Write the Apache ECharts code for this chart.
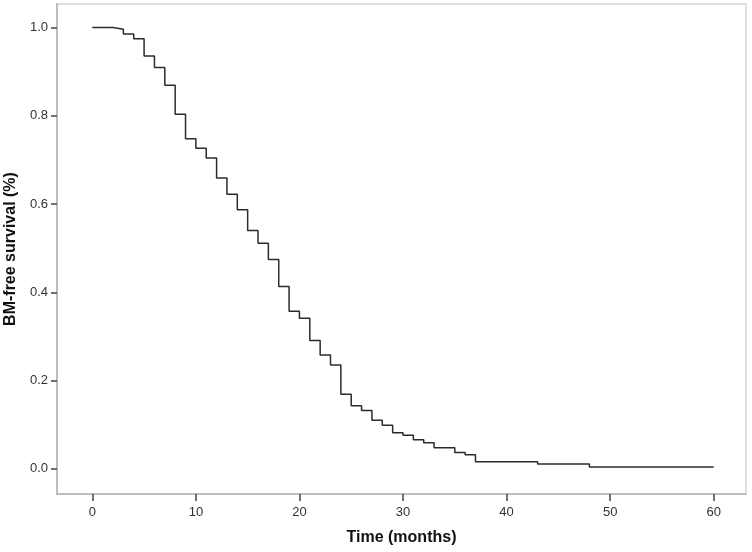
<!DOCTYPE html>
<html>
<head>
<meta charset="utf-8">
<script src="https://cdn.jsdelivr.net/npm/echarts@6/dist/echarts.min.js"></script>
<style>
  html, body { margin: 0; padding: 0; background: #fff; }
  #chart { width: 752px; height: 552px; }
</style>
</head>
<body>
<div id="chart"></div>
<script>
// Kaplan-Meier step points: time (months) and survival from that time on
const times = [0, 2, 3, 4, 5, 6, 7, 8, 9, 10, 11, 12, 13, 14, 15, 16, 17, 18, 19, 20,
  21, 22, 23, 24, 25, 26, 27, 28, 29, 30, 31, 32, 33, 35, 36, 37, 43, 48, 60];
const survival = [1.0, 0.996, 0.985, 0.974, 0.935, 0.909, 0.869, 0.803, 0.748, 0.726,
  0.704, 0.659, 0.622, 0.587, 0.540, 0.511, 0.474, 0.413, 0.357, 0.341,
  0.291, 0.258, 0.235, 0.169, 0.143, 0.132, 0.110, 0.099, 0.082, 0.076,
  0.066, 0.059, 0.048, 0.037, 0.032, 0.016, 0.011, 0.004, 0.004];
const xTicks = [0, 10, 20, 30, 40, 50, 60];
const yTicks = [0, 0.2, 0.4, 0.6, 0.8, 1.0];

const chart = echarts.init(document.getElementById('chart'));

const font = "'Liberation Sans', Arial, sans-serif";

chart.setOption({
  animation: false,
  grid: {
    left: 57, right: 6, top: 4, bottom: 58,
    outerBoundsMode: 'none',
    containLabel: false,
    show: true,
    borderColor: '#d4d4d4',
    borderWidth: 1.5
  },
  xAxis: {
    type: 'value',
    min: -3.41,
    max: 63.12,
    name: 'Time (months)',
    nameLocation: 'middle',
    nameGap: 36,
    nameTextStyle: { fontFamily: font, fontSize: 16, fontWeight: 'bold', color: '#111' },
    axisLine: { show: true, onZero: false, lineStyle: { color: '#bdbdbd', width: 2 } },
    axisTick: { show: true, customValues: xTicks, length: 7, lineStyle: { color: '#444', width: 1.5 } },
    axisLabel: { customValues: xTicks, margin: 12, fontFamily: font, fontSize: 13, color: '#333' },
    splitLine: { show: false }
  },
  yAxis: {
    type: 'value',
    min: -0.057,
    max: 1.053,
    name: 'BM-free survival (%)',
    nameLocation: 'middle',
    nameGap: 37,
    nameTextStyle: { fontFamily: font, fontSize: 16, fontWeight: 'bold', color: '#111' },
    axisLine: { show: true, onZero: false, lineStyle: { color: '#bdbdbd', width: 2 } },
    axisTick: { show: true, customValues: yTicks, length: 6, lineStyle: { color: '#444', width: 1.5 } },
    axisLabel: {
      customValues: yTicks, margin: 9, fontFamily: font, fontSize: 13, color: '#333',
      formatter: v => v.toFixed(1)
    },
    splitLine: { show: false }
  },
  series: [{
    type: 'line',
    step: 'end',
    showSymbol: false,
    data: times.map((t, i) => [t, survival[i]]),
    lineStyle: { color: '#2b2b2b', width: 1.5 }
  }]
});
</script>
</body>
</html>
